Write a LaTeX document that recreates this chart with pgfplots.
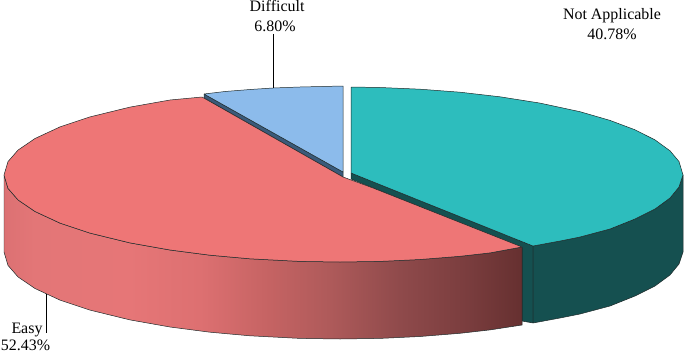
\documentclass[border=0pt]{standalone}
\usepackage{fontspec}
\setmainfont{Liberation Serif}
\usepackage{pgfplots}
\pgfplotsset{compat=1.18}
\definecolor{tealtop}{HTML}{2DBDBD}
\definecolor{tealwall}{HTML}{155050}
\definecolor{redtop}{HTML}{EE7676}
\definecolor{bluetop}{HTML}{8CBBEB}
\definecolor{bluewall}{HTML}{3A5A7A}
\definecolor{edge}{HTML}{1E2A2A}
\definecolor{ra}{HTML}{DC7173}
\definecolor{rb}{HTML}{E37677}
\definecolor{rc}{HTML}{E67677}
\definecolor{rd}{HTML}{DD7071}
\definecolor{re}{HTML}{C56363}
\definecolor{rf}{HTML}{AE5A5A}
\definecolor{rg}{HTML}{8F4A4B}
\definecolor{rh}{HTML}{7A3D3E}
\definecolor{ri}{HTML}{663030}
\pgfdeclarehorizontalshading{redwall}{100bp}{
 color(0bp)=(ra);
 color(25bp)=(ra);
 color(28bp)=(rb);
 color(37bp)=(rc);
 color(43.9bp)=(rd);
 color(50.6bp)=(re);
 color(56.5bp)=(rf);
 color(63.2bp)=(rg);
 color(69.7bp)=(rh);
 color(75bp)=(ri);
 color(100bp)=(ri)}
\begin{document}
\begin{tikzpicture}
\path[use as bounding box] (0,0) rectangle (685bp,353bp);
\begin{axis}[at={(0,0)},anchor=south west,width=685bp,height=353bp,scale only axis,
 hide axis,xmin=0,xmax=685,ymin=0,ymax=353,y dir=reverse,clip=true,
 every axis plot/.append style={line width=0.5pt,mark=none,line join=round}]
% blue
\addplot[draw=edge,fill=bluewall] coordinates {(204,94)(343,172)(343,177)(204,98)(204,94)};
\addplot[draw=edge,fill=bluetop] coordinates {(204,94)(225,91.5)(250,89.5)(273,88)(300,87)(343,86)(343,172)(204,94)};
% teal inner and outer walls
\addplot[draw=edge,fill=tealwall] coordinates {(351,173)(533,246)(533,323)(522,321)(522,248)(351,179)(351,173)};
\addplot[draw=edge,fill=tealwall] coordinates {(533,246)(560,241)(580,237)(610,229)(635,219)(655,209)(670,198)(679,187)(683,175)(683,252)(679,264)(670,275)(655,286)(635,296)(610,306)(580,314)(560,318)(533,323)(533,246)};
% teal top
\addplot[draw=edge,fill=tealtop] coordinates {(351,87)(380,87.5)(420,89.2)(460,92.2)(500,96.8)(540,103.1)(580,111.7)(610,120.4)(635,129.8)(655,139.9)(670,150.8)(679,161.5)(683,175)(679,187)(670,198)(655,209)(635,219)(610,229)(580,237)(560,241)(533,246)(351,173)(351,87)};
% red wall
\addplot[draw=edge,shading=redwall,shading angle=0] coordinates {(4,175)(8,188.4)(18,199.9)(35,211.5)(60,223.1)(90,233.1)(130,242.9)(170,250)(210,255.2)(250,258.8)(300,261.4)(340,262)(380,261.4)(420,259.5)(460,256.3)(490,252.9)(522,247)(522,325)(490,329.9)(460,333.3)(420,336.5)(380,338.4)(340,339)(300,338.4)(250,335.8)(210,332.2)(170,327)(130,319.9)(90,310.1)(60,300.1)(35,288.5)(18,276.9)(8,265.4)(4,252)(4,175)};
% red top
\addplot[draw=edge,fill=redtop] coordinates {(202,97)(170,100)(130,107.1)(90,116.9)(60,126.9)(35,138.5)(18,150.1)(8,161.6)(4,175)(8,188.4)(18,199.9)(35,211.5)(60,223.1)(90,233.1)(130,242.9)(170,250)(210,255.2)(250,258.8)(300,261.4)(340,262)(380,261.4)(420,259.5)(460,256.3)(490,252.9)(522,247)(373,188)(343,177)(202,97)};
% leaders
\addplot[draw=black,line width=0.9pt] coordinates {(273,34)(273,88)};
\addplot[draw=black,line width=0.9pt] coordinates {(46,294)(46,333)};
\node[font=\fontsize{16}{19}\selectfont,align=center,anchor=base] at (axis cs:277,12) {Dif\kern0ptf\kern0pti\kern0ptcult};
\node[font=\fontsize{16}{19}\selectfont,align=center,anchor=base] at (axis cs:275,31.5) {6.80\%};
\node[font=\fontsize{16}{19}\selectfont,align=center,anchor=base] at (axis cs:612,20) {Not Applicable};
\node[font=\fontsize{16}{19}\selectfont,align=center,anchor=base] at (axis cs:612,39) {40.78\%};
\node[font=\fontsize{16}{19}\selectfont,align=center,anchor=base] at (axis cs:27,333) {Easy};
\node[font=\fontsize{16}{19}\selectfont,align=center,anchor=base] at (axis cs:25.5,350.5) {52.43\%};
\end{axis}
\end{tikzpicture}
\end{document}
